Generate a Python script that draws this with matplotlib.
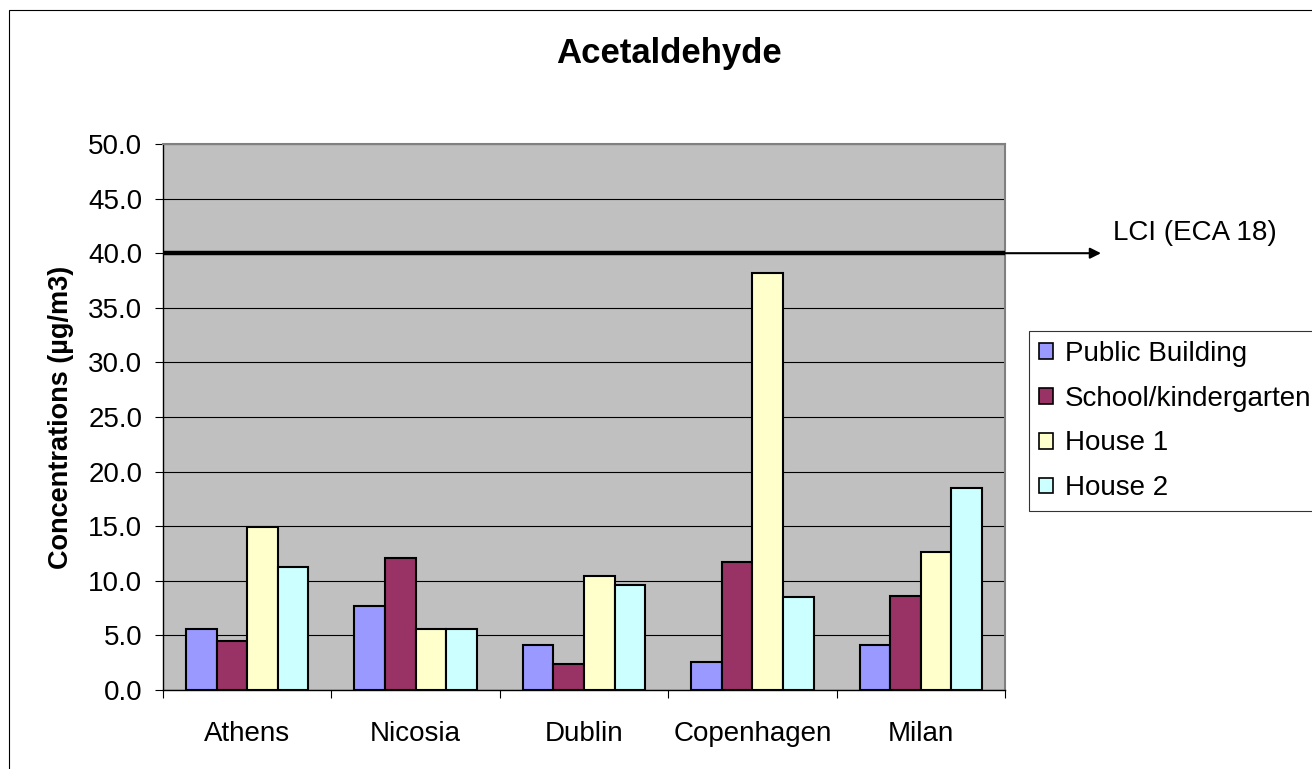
import matplotlib
matplotlib.use("Agg")
import matplotlib.pyplot as plt
from matplotlib.patches import Rectangle, Patch
import numpy as np

cities = ["Athens", "Nicosia", "Dublin", "Copenhagen", "Milan"]
series_names = ["Public Building", "School/kindergarten", "House 1", "House 2"]
public_building = [5.6, 7.7, 4.1, 2.6, 4.1]
school_kindergarten = [4.5, 12.1, 2.4, 11.7, 8.6]
house_1 = [14.9, 5.6, 10.4, 38.2, 12.6]
house_2 = [11.3, 5.6, 9.6, 8.5, 18.5]
series_colors = ["#9999FF", "#993366", "#FFFFCC", "#CCFFFF"]
lci_value = 40.0
lci_label = "LCI (ECA 18)"
y_ticks = np.arange(0, 50.1, 5.0)

W, H = 1312, 769
plt.rcParams["font.family"] = ["Liberation Sans", "DejaVu Sans"]
fig = plt.figure(figsize=(W / 100, H / 100), dpi=100)
fig.patch.set_facecolor("white")

# plot area in pixel terms
left, right, top, bottom = 163, 1005, 144, 690
ax = fig.add_axes([left / W, 1 - bottom / H, (right - left) / W, (bottom - top) / H])
ax.set_facecolor("#C0C0C0")

x = np.arange(len(cities))
bar_w = 1 / 5.5
all_series = [public_building, school_kindergarten, house_1, house_2]
for i, (vals, col, name) in enumerate(zip(all_series, series_colors, series_names)):
    ax.bar(x + (i - 1.5) * bar_w, vals, width=bar_w, color=col,
           edgecolor="black", linewidth=1.5, label=name, zorder=3)

ax.set_xlim(-0.5, len(cities) - 0.5)
ax.set_ylim(0, 50)
ax.set_yticks(y_ticks)
ax.set_yticklabels([f"{v:.1f}" for v in y_ticks], fontsize=20)
ax.yaxis.grid(True, color="black", linewidth=0.8, zorder=1)
ax.set_axisbelow(True)
ax.tick_params(axis="y", direction="out", length=6, width=0.8, pad=9)

ax.set_xticks(x)
ax.set_xticklabels(cities, fontsize=20)
ax.tick_params(axis="x", which="major", length=0, pad=22)
ax.set_xticks(np.arange(-0.5, len(cities), 1.0), minor=True)
ax.tick_params(axis="x", which="minor", direction="out", length=6, width=0.8)

for s in ["top", "right"]:
    ax.spines[s].set_color("#808080")
    ax.spines[s].set_linewidth(1.5)
for s in ["left", "bottom"]:
    ax.spines[s].set_color("black")
    ax.spines[s].set_linewidth(1.0)

# limit line with arrow to its label
ax.axhline(lci_value, color="black", linewidth=3.2, zorder=4)
ax.annotate("", xy=((1101 - left) / (right - left), lci_value),
            xytext=(1.0, lci_value),
            xycoords=ax.get_yaxis_transform(), textcoords=ax.get_yaxis_transform(),
            arrowprops=dict(arrowstyle="-|>", color="black", lw=1.5,
                            mutation_scale=16, shrinkA=0, shrinkB=0),
            annotation_clip=False)
fig.text(1113 / W, 1 - 233 / H, lci_label, fontsize=20, ha="left", va="center")

ax.set_ylabel("Concentrations (µg/m3)", fontsize=19.5, fontweight="bold", labelpad=10)
fig.text(669 / W, 1 - 54 / H, "Acetaldehyde", fontsize=25, fontweight="bold",
         ha="center", va="center")

handles = [Patch(facecolor=c, edgecolor="black", linewidth=1.2) for c in series_colors]
leg = fig.legend(handles, series_names, loc="upper left",
                 bbox_to_anchor=(1029 / W, 1 - 331 / H), fontsize=20,
                 frameon=True, fancybox=False, edgecolor="black",
                 handlelength=0.5, handleheight=0.5, handletextpad=0.45,
                 labelspacing=0.68, borderpad=0.35, borderaxespad=0)
leg.get_frame().set_linewidth(0.8)

# chart border
fig.add_artist(Rectangle((9 / W, -0.1), 2, (1 - 10 / H) + 0.1, transform=fig.transFigure,
                         fill=False, edgecolor="black", linewidth=0.8))

fig.savefig("out.png", dpi=100)
